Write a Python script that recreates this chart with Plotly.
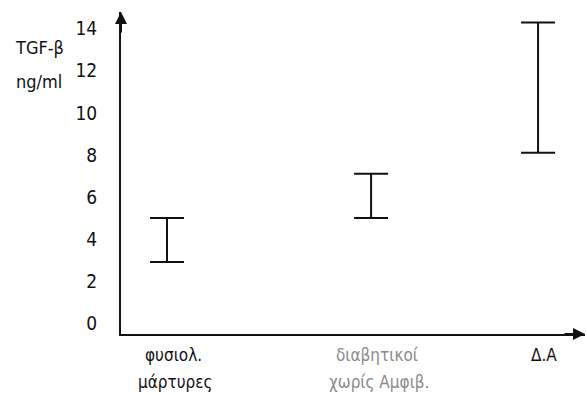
import plotly.graph_objects as go

# TGF-β ranges (ng/ml) per group
categories = [["φυσιολ.", "μάρτυρες"], ["διαβητικοί", "χωρίς Αμφιβ."], ["Δ.Α"]]
low_values = [2.9, 5.0, 8.1]
high_values = [5.0, 7.1, 14.3]
y_ticks = [0, 2, 4, 6, 8, 10, 12, 14]

# horizontal placement of the groups along the x axis
x_pos = [0, 1.1, 2.0]
label_colors = ["#111111", "#8a8a8a", "#111111"]

FONT = "Liberation Sans Narrow, DejaVu Sans Condensed, Arial, sans-serif"

mid = [(lo + hi) / 2 for lo, hi in zip(low_values, high_values)]
half = [(hi - lo) / 2 for lo, hi in zip(low_values, high_values)]

fig = go.Figure()
fig.add_trace(go.Scatter(
    x=x_pos, y=mid, mode="markers",
    marker=dict(size=1, color="rgba(0,0,0,0)"),
    error_y=dict(type="data", array=half, symmetric=True,
                 color="#111111", thickness=2, width=17),
    showlegend=False, hoverinfo="skip",
))

fig.update_layout(
    width=587, height=395,
    margin=dict(l=121, r=2, t=12, b=61),
    paper_bgcolor="white", plot_bgcolor="white",
    font=dict(family=FONT, size=17, color="#111111"),
    xaxis=dict(range=[-0.248, 2.253], showgrid=False, zeroline=False,
               showline=True, linecolor="#111111", linewidth=2,
               showticklabels=False, ticks=""),
    yaxis=dict(range=[-0.524, 14.8], showgrid=False, zeroline=False,
               showline=True, linecolor="#111111", linewidth=2,
               tickvals=y_ticks, ticks="", ticklabelstandoff=18,
               tickfont=dict(size=19)),
)

# group labels under the x axis, one annotation per line
for xp, lines, col in zip(x_pos, categories, label_colors):
    for i, line in enumerate(lines):
        fig.add_annotation(xref="x", yref="paper", x=xp, y=0,
                           xshift=6 if i == 0 else 8, yshift=-21 - 27 * i,
                           xanchor="center", yanchor="middle", showarrow=False,
                           text=line, font=dict(size=17, color=col))

# arrowheads at the ends of both axes
fig.add_annotation(xref="paper", yref="paper", x=0, y=1, ax=0, ay=22,
                   showarrow=True, arrowhead=2, arrowsize=1.2, arrowwidth=2,
                   arrowcolor="#111111", text="")
fig.add_annotation(xref="paper", yref="paper", x=1, y=0, ax=-22, ay=0,
                   showarrow=True, arrowhead=2, arrowsize=1.2, arrowwidth=2,
                   arrowcolor="#111111", text="")

# axis title, two lines
for txt, ys in (("TGF-β", 47), ("ng/ml", 81)):
    fig.add_annotation(xref="paper", yref="paper", x=0, y=1,
                       xshift=39 - 121, yshift=12 - ys,
                       xanchor="center", yanchor="middle", showarrow=False,
                       text=txt, font=dict(size=18))

fig.write_html("out.html")
